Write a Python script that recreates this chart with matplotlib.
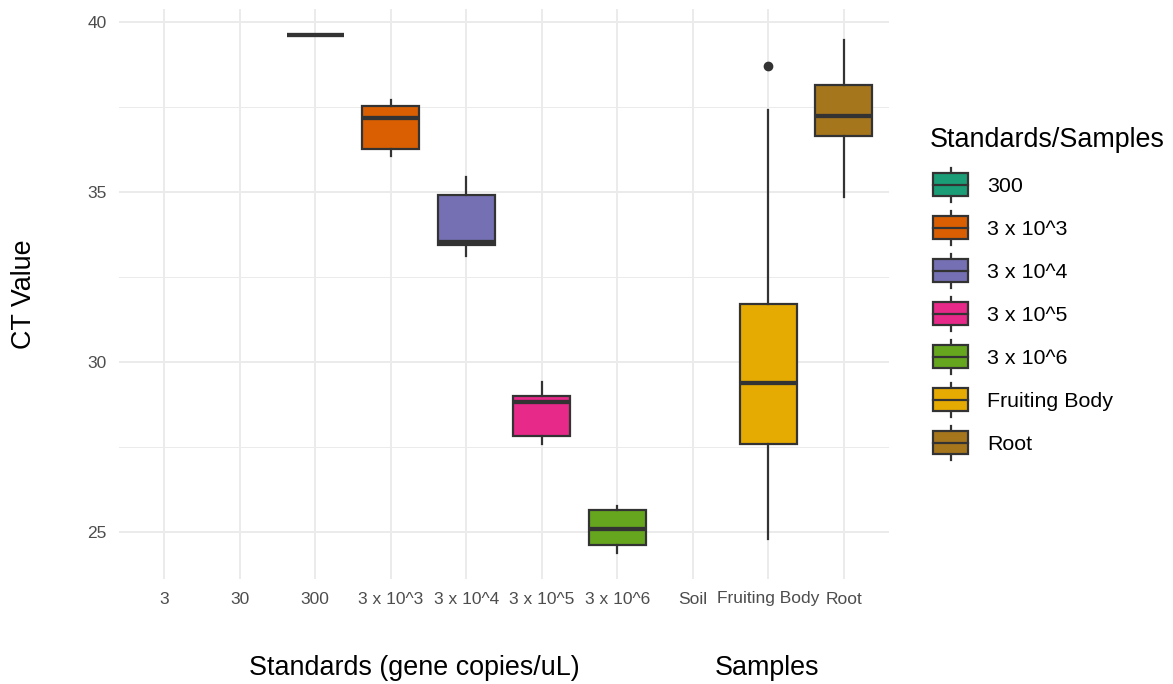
import matplotlib
matplotlib.use("Agg")
import matplotlib.pyplot as plt
from matplotlib.patches import Patch, Rectangle
from matplotlib.lines import Line2D
from matplotlib.legend_handler import HandlerBase

plt.rcParams['font.family'] = ['Liberation Sans', 'DejaVu Sans']

# x axis categories (3, 30 and Soil have no data)
categories = ["3", "30", "300", "3 x 10^3", "3 x 10^4", "3 x 10^5", "3 x 10^6",
              "Soil", "Fruiting Body", "Root"]

# groups that have boxes, with their box stats (CT values)
groups = ["300", "3 x 10^3", "3 x 10^4", "3 x 10^5", "3 x 10^6", "Fruiting Body", "Root"]
whislo = [39.61, 36.04, 33.13, 27.60, 24.39, 24.81, 34.85]
q1 = [39.61, 36.26, 33.45, 27.84, 24.62, 27.60, 36.64]
med = [39.61, 37.18, 33.53, 28.82, 25.10, 29.38, 37.24]
q3 = [39.61, 37.51, 34.92, 29.01, 25.66, 31.70, 38.13]
whishi = [39.61, 37.69, 35.44, 29.42, 25.76, 37.41, 39.47]
fliers = [[], [], [], [], [], [38.71], []]

colors = ["#1B9E77", "#D95F02", "#7570B3", "#E7298A", "#66A61E", "#E6AB02", "#A6761D"]
edge = "#333333"


class BoxHandler(HandlerBase):
    def create_artists(self, legend, orig_handle, xdescent, ydescent,
                       width, height, fontsize, trans):
        inset = 3.0  # small indent of the key, like ggplot
        x0, y0 = -xdescent + inset, -ydescent
        w = width - inset
        bh = height * 0.68
        by = y0 + (height - bh) / 2
        arts = [
            Line2D([x0 + w / 2] * 2, [y0, by], color=edge, lw=1.6),
            Line2D([x0 + w / 2] * 2, [by + bh, y0 + height], color=edge, lw=1.6),
            Rectangle((x0, by), w, bh, facecolor=orig_handle.get_facecolor(),
                      edgecolor=edge, lw=1.6),
            Line2D([x0, x0 + w], [by + bh / 2] * 2, color=edge, lw=1.6),
        ]
        for a in arts:
            a.set_transform(trans)
        return arts


fig = plt.figure(figsize=(11.73, 6.84), dpi=100)
W, H = 1173, 684
ax = fig.add_axes([119 / W, 1 - 579 / H, (889 - 119) / W, (579 - 9) / H])

stats = []
for i in range(len(groups)):
    stats.append(dict(label=groups[i], whislo=whislo[i], q1=q1[i], med=med[i],
                      q3=q3[i], whishi=whishi[i], fliers=fliers[i]))
positions = [categories.index(g) + 1 for g in groups]

bp = ax.bxp(stats, positions=positions, widths=0.75, patch_artist=True,
            showcaps=False, zorder=3,
            boxprops=dict(edgecolor=edge, linewidth=1.6),
            medianprops=dict(color=edge, linewidth=3.1, solid_capstyle='butt'),
            whiskerprops=dict(color=edge, linewidth=1.6),
            flierprops=dict(marker='o', markerfacecolor=edge, markeredgecolor=edge,
                            markersize=6))
for box, c in zip(bp['boxes'], colors):
    box.set_facecolor(c)

# ggplot-like expansion
lo = min(whislo + [v for f in fliers for v in f])
hi = max(whishi + [v for f in fliers for v in f])
pad = (hi - lo) * 0.05
ax.set_ylim(lo - pad, hi + pad)
ax.set_xlim(0.4, len(categories) + 0.6)

ax.set_xticks(range(1, len(categories) + 1))
ax.set_xticklabels(categories)
ax.set_yticks([25, 30, 35, 40])
ax.set_yticks([27.5, 32.5, 37.5], minor=True)
ax.tick_params(axis='both', which='both', length=0, labelsize=12.5,
               labelcolor="#4D4D4D", pad=9)

ax.grid(True, which='major', color="#EBEBEB", linewidth=1.4, zorder=0)
ax.grid(True, which='minor', axis='y', color="#EBEBEB", linewidth=0.7, zorder=0)
ax.set_axisbelow(True)
for s in ax.spines.values():
    s.set_visible(False)

ax.set_ylabel("CT Value", fontsize=19.4)
ax.yaxis.set_label_coords((37 - 119) / 770, 0.5)
fig.text(414.5 / W, 1 - 668 / H, "Standards (gene copies/uL)", fontsize=19.4,
         ha='center', va='center')
fig.text(767 / W, 1 - 668 / H, "Samples", fontsize=19.4, ha='center', va='center')

handles = [Patch(facecolor=c, label=g) for g, c in zip(groups, colors)]
leg = fig.legend(handles=handles, title="Standards/Samples", loc='upper left',
                 bbox_to_anchor=(925 / W, 1 - 123 / H), frameon=False,
                 fontsize=15.4, title_fontsize=19.4, alignment='left',
                 handler_map={Patch: BoxHandler()},
                 handlelength=1.82, handleheight=2.07, labelspacing=0.42,
                 handletextpad=0.9, borderaxespad=0, borderpad=0.2)
leg._legend_box.sep = 10.5  # gap between title and keys

fig.savefig("out.png", dpi=100)
